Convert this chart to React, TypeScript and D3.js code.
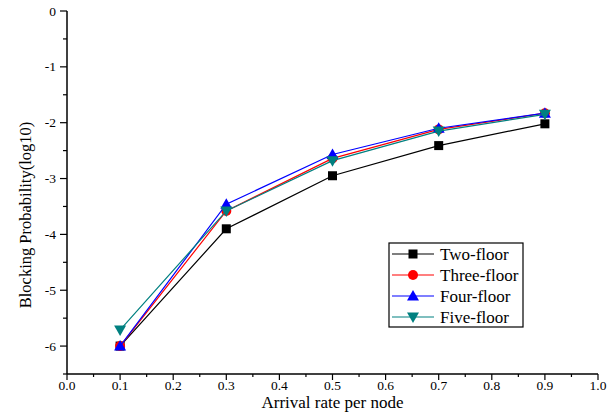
import React from "react";
import * as d3 from "d3";

const xValues = [0.1, 0.3, 0.5, 0.7, 0.9];
const seriesNames = ["Two-floor", "Three-floor", "Four-floor", "Five-floor"];
const twoFloor = [-6.0, -3.9, -2.95, -2.41, -2.02];
const threeFloor = [-6.0, -3.58, -2.64, -2.12, -1.83];
const fourFloor = [-6.0, -3.46, -2.57, -2.1, -1.83];
const fiveFloor = [-5.71, -3.58, -2.68, -2.15, -1.85];
const xTicks = [0, 0.1, 0.2, 0.3, 0.4, 0.5, 0.6, 0.7, 0.8, 0.9, 1.0];
const yTicks = [0, -1, -2, -3, -4, -5, -6];

const colors = ["#000000", "#ff0000", "#0000ff", "#008080"];
const shapes = ["square", "circle", "triangle", "triangleDown"];

const W = 616;
const H = 420;
const font = "Liberation Serif, serif";

function Marker({ shape, x, y, color }: { shape: string; x: number; y: number; color: string }) {
  if (shape === "square") return <rect x={x - 4.5} y={y - 4.5} width={9} height={9} fill={color} />;
  if (shape === "circle") return <circle cx={x} cy={y} r={5} fill={color} />;
  if (shape === "triangle")
    return <path d={`M${x},${y - 6}L${x + 6},${y + 4.5}L${x - 6},${y + 4.5}Z`} fill={color} />;
  return <path d={`M${x},${y + 6}L${x + 6},${y - 4.5}L${x - 6},${y - 4.5}Z`} fill={color} />;
}

export default function App() {
  const x = d3.scaleLinear().domain([0, 1]).range([67, 598]);
  const y = d3.scaleLinear().domain([0, -6.5]).range([11, 374]);
  const data = [twoFloor, threeFloor, fourFloor, fiveFloor];
  const line = d3
    .line<number>()
    .x((_, i) => x(xValues[i]))
    .y((d) => y(d));
  const xMinor = d3.range(0, 21).map((i) => i * 0.05);
  const yMinor = d3.range(0, 14).map((i) => -i * 0.5);

  return (
    <svg width={W} height={H} style={{ position: "absolute", left: 0, top: 0, background: "#fff" }}>
      <rect width={W} height={H} fill="#fff" />
      <line x1={x(0)} x2={x(0)} y1={y(0)} y2={y(-6.5)} stroke="#000" strokeWidth={1.5} />
      <line x1={x(0)} x2={x(1)} y1={y(-6.5)} y2={y(-6.5)} stroke="#000" strokeWidth={1.5} />
      {yMinor.map((v, i) => {
        const major = i % 2 === 0;
        return (
          <line key={"ym" + i} x1={x(0)} x2={x(0) - (major ? 7 : 4)} y1={y(v)} y2={y(v)} stroke="#000" strokeWidth={1.2} />
        );
      })}
      {xMinor.map((v, i) => {
        const major = i % 2 === 0;
        return (
          <line key={"xm" + i} x1={x(v)} x2={x(v)} y1={y(-6.5)} y2={y(-6.5) + (major ? 6 : 3)} stroke="#000" strokeWidth={1.2} />
        );
      })}
      <g fontFamily={font} fontSize={13.5} fill="#000">
        {yTicks.map((v) => (
          <text key={"yt" + v} x={x(0) - 11} y={y(v) + 4.5} textAnchor="end">
            {v === 0 ? "0" : `-${Math.abs(v)}`}
          </text>
        ))}
        {xTicks.map((v) => (
          <text key={"xt" + v} x={x(v)} y={390} textAnchor="middle">
            {v.toFixed(1)}
          </text>
        ))}
      </g>
      <text x={(x(0) + x(1)) / 2} y={408} textAnchor="middle" fontFamily={font} fontSize={17} fill="#000">
        Arrival rate per node
      </text>
      <text
        transform={`translate(31,215) rotate(-90)`}
        textAnchor="middle"
        fontFamily={font}
        fontSize={16.5}
        fill="#000"
      >
        Blocking Probability(log10)
      </text>
      {data.map((s, si) => (
        <g key={"s" + si}>
          <path d={line(s) || ""} fill="none" stroke={colors[si]} strokeWidth={1.2} />
          {s.map((v, i) => (
            <Marker key={i} shape={shapes[si]} x={x(xValues[i])} y={y(v)} color={colors[si]} />
          ))}
        </g>
      ))}
      <rect x={389} y={243} width={134} height={84} fill="#fff" stroke="#000" strokeWidth={1.2} />
      {seriesNames.map((n, i) => {
        const ly = 254 + i * 21;
        return (
          <g key={"l" + i}>
            <line x1={392} x2={434} y1={ly} y2={ly} stroke={colors[i]} strokeWidth={1.2} />
            <Marker shape={shapes[i]} x={413} y={ly} color={colors[i]} />
            <text x={440} y={ly + 5.5} fontFamily={font} fontSize={17} fill="#000">
              {n}
            </text>
          </g>
        );
      })}
    </svg>
  );
}
